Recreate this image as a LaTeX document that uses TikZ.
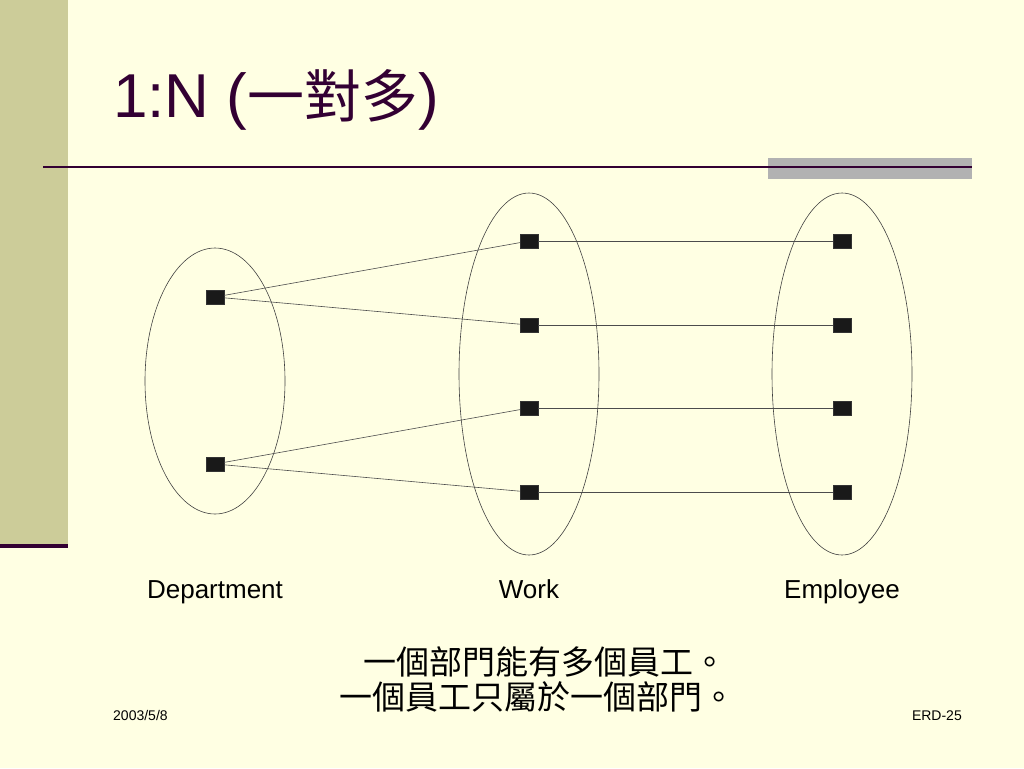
\documentclass[tikz,border=0pt]{standalone}
\usepackage{fontspec}
\setmainfont{Liberation Sans}
\newfontfamily\cjk{Noto Sans CJK TC}
\usetikzlibrary{positioning, shapes.geometric}

\definecolor{slidebg}{HTML}{FFFFE3}
\definecolor{barkhaki}{HTML}{CCCC99}
\definecolor{titlepurple}{HTML}{330033}
\definecolor{bargray}{HTML}{B2B2B2}

\tikzset{
    elem/.style={fill=black!90, draw=black!80, minimum width=18pt, minimum height=14pt, inner sep=0pt},
    set/.style={ellipse, draw=black!75, line width=0.6pt, inner sep=0pt, minimum width=140pt},
    link/.style={draw=black!70, line width=0.6pt},
    setlabel/.style={anchor=base, font=\fontsize{26}{28}\selectfont}
}

\begin{document}
\begin{tikzpicture}[x=1pt, y=-1pt]
        % Slide background
        \fill[slidebg] (0,0) rectangle (1024,768);
        \fill[barkhaki] (0,0) rectangle (68,545);
        \fill[titlepurple] (0,544) rectangle (68,548);
        \fill[bargray] (768,158) rectangle (972,179);
        \draw[titlepurple, line width=2.4pt] (43,167) -- (972,167);

        % Title
        \node[anchor=base west, inner sep=0pt, text=titlepurple, font=\fontsize{62}{70}\selectfont] (title) at (113,117) {1:N ({\cjk\fontsize{57}{70}\selectfont 一對多})};

        % Create sets
        \node[set, minimum height=266pt] (dept) at (215,381) {};
        \node[set, minimum height=362pt] (work) at (529,374) {};
        \node[set, minimum height=362pt] (emp) at (842,374) {};

        % Create elements
        \node[elem] (d1) at (215,297) {};
        \node[elem] (d2) at (215,464) {};

        \node[elem] (w1) at (529,241) {};
        \node[elem] (w2) at (529,325) {};
        \node[elem] (w3) at (529,408) {};
        \node[elem] (w4) at (529,492) {};

        \node[elem] (e1) at (842,241) {};
        \node[elem] (e2) at (842,325) {};
        \node[elem] (e3) at (842,408) {};
        \node[elem] (e4) at (842,492) {};

        % Draw lines to connect them
        \draw[link] (d1) -- (w1);
        \draw[link] (d1) -- (w2);
        \draw[link] (d2) -- (w3);
        \draw[link] (d2) -- (w4);
        \draw[link] (w1) -- (e1);
        \draw[link] (w2) -- (e2);
        \draw[link] (w3) -- (e3);
        \draw[link] (w4) -- (e4);

        % Set names
        \node[setlabel] (deptname) at (215,598) {Department};
        \node[setlabel] (workname) at (529,598) {Work};
        \node[setlabel] (empname) at (842,598) {Employee};

        % Rules
        \node[font=\cjk\fontsize{33}{36}\selectfont, inner sep=0pt] (rule1) at (545,662) {一個部門能有多個員工。};
        \node[font=\cjk\fontsize{33}{36}\selectfont, inner sep=0pt] (rule2) at (537,697) {一個員工只屬於一個部門。};

        % Footer
        \node[anchor=base west, inner sep=0pt, font=\fontsize{14}{16}\selectfont] (date) at (113,720) {2003/5/8};
        \node[anchor=base east, inner sep=0pt, font=\fontsize{14}{16}\selectfont] (page) at (962,720) {ERD-25};
\end{tikzpicture}
\end{document}
